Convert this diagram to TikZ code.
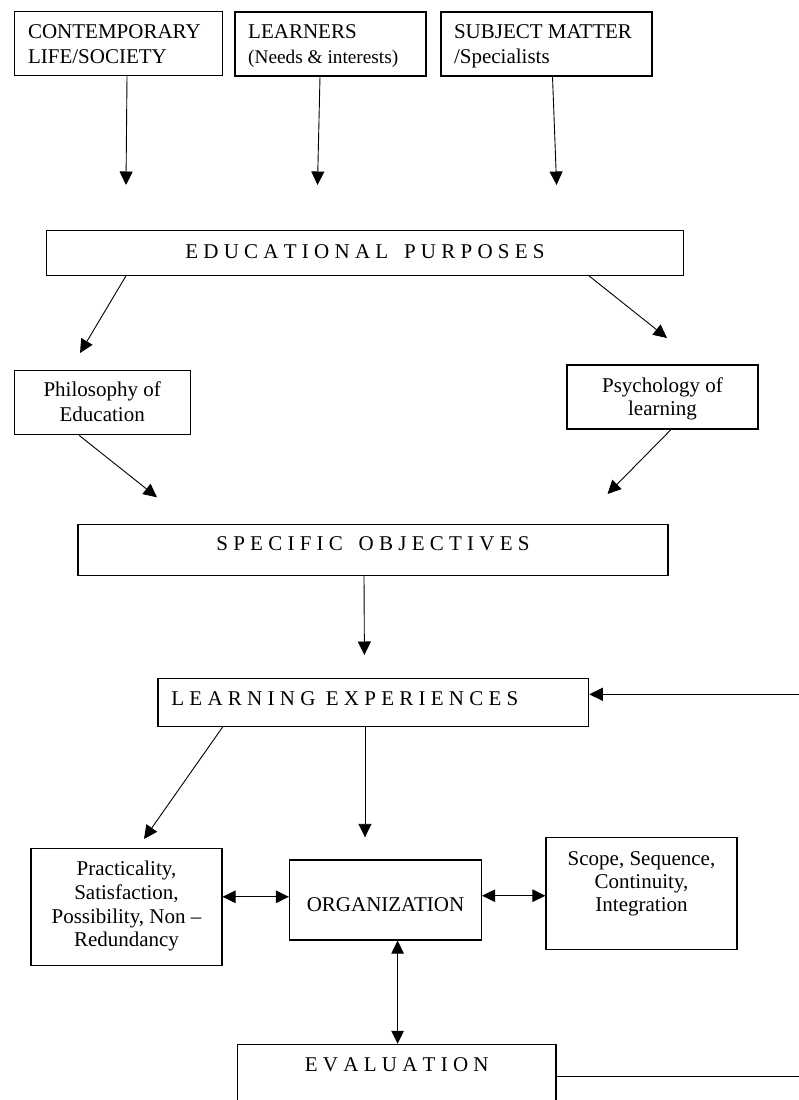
\documentclass[tikz,border=0pt]{standalone}
\usepackage{fontspec}
\setmainfont{Liberation Serif}
\usetikzlibrary{arrows.meta}
\newcommand\tsH[1]{\vrule height #1pt depth 0pt width 0pt}
\newcommand\tsD[1]{\vrule height 0pt depth #1pt width 0pt}
\newcommand\nsp{\spaceskip=0pt\xspaceskip=0pt\relax}
\begin{document}
\begin{tikzpicture}[x=1pt,y=-1pt,
  box/.style={draw=black, line width=1.1pt, rectangle, inner sep=0pt, font=\fontsize{21}{25}\selectfont},
  arr/.style={line width=0.9pt, -{Triangle[length=13.5pt,width=13pt]}},
  darr/.style={line width=0.9pt, {Triangle[length=13pt,width=12.5pt]}-{Triangle[length=13pt,width=12.5pt]}},
]
\useasboundingbox (0,0) rectangle (799,1100);
\clip (0,0) rectangle (799,1100);

% top boxes
\node[box, minimum width=207.7pt, minimum height=64pt, text width=180.3pt, align=left] (ctx) at (118.2,43.7)
  {\nsp\tsH{20}CONTEMPORARY\\LIFE/SOCIETY\tsD{5.8}};
\node[box, minimum width=191pt, minimum height=64pt, text width=164.6pt, align=left] (lrn) at (330.5,44)
  {\nsp\tsH{20}LEARNERS\\\mbox{\fontsize{19.3}{25}\selectfont (Needs \& interests)}\tsD{7}};
\node[box, minimum width=211pt, minimum height=64pt, text width=185pt, align=left] (sub) at (546.5,44)
  {\nsp\tsH{20}SUBJECT MATTER\\/Specialists\tsD{6.4}};

\node[box, minimum width=637pt, minimum height=44.6pt] (edu) at (365,253)
  {\tsH{20}E D U C A T I O N A L~~~P U R P O S E S\tsD{9.4}};

\node[box, minimum width=175.7pt, minimum height=64pt, align=center] (phil) at (102.2,402.7)
  {\nsp\tsH{20}Philosophy of\\Education\tsD{7}};
\node[box, minimum width=191pt, minimum height=64pt, align=center, font=\fontsize{21}{23.5}\selectfont] (psy) at (662.5,397)
  {\nsp\tsH{20}Psychology of\\learning\tsD{6}};

\node[box, minimum width=590pt, minimum height=51pt] (spec) at (373,549.8)
  {\tsH{20}S P E C I F I C~~~O B J E C T I V E S\tsD{18.2}};

\node[box, minimum width=430.7pt, minimum height=47.6pt, text width=404pt, align=left] (lrnexp) at (373.35,702.5)
  {\nsp\tsH{20}L E A R N I N G~~E X P E R I E N C E S\tsD{14.4}};

\node[box, minimum width=191pt, minimum height=117pt, align=center, font=\fontsize{21}{23.6}\selectfont] (prac) at (126.5,906.8)
  {\nsp\tsH{20}Practicality,\\Satisfaction,\\Possibility, Non –\\Redundancy\tsD{10.9}};
\node[box, minimum width=192.1pt, minimum height=80pt] (org) at (385.5,900)
  {\tsH{24}ORGANIZATION\tsD{0.6}};
\node[box, minimum width=191pt, minimum height=111.6pt, align=center, font=\fontsize{21}{23}\selectfont] (scope) at (641.5,893.5)
  {\nsp\tsH{20}Scope, Sequence,\\Continuity,\\Integration\tsD{29.6}};

\node[box, minimum width=318.5pt, minimum height=64pt] (eval) at (396.75,1076.3)
  {\tsH{20}E V A L U A T I O N\tsD{29.2}};

% free arrow ends
\coordinate (t1) at (126,185);
\coordinate (t2) at (317.5,185);
\coordinate (t3) at (556.6,185);
\coordinate (t4) at (80,353);
\coordinate (t5) at (667,338);
\coordinate (t6) at (157,497.3);
\coordinate (t7) at (607.5,494);
\coordinate (t8) at (364.4,655);
\coordinate (t9) at (144,839);
\coordinate (t10) at (365,837.3);
\coordinate (fb) at (830,0);

\draw[arr] ([xshift=8.8pt]ctx.south) -- (t1);
\draw[arr] ([xshift=-10.5pt]lrn.south) -- (t2);
\draw[arr] ([xshift=6pt]sub.south) -- (t3);
\draw[arr] ([xshift=-239pt]edu.south) -- (t4);
\draw[arr] ([xshift=224pt]edu.south) -- (t5);
\draw[arr] ([xshift=-23.2pt]phil.south) -- (t6);
\draw[arr] ([xshift=8.5pt]psy.south) -- (t7);
\draw[arr] ([xshift=-9pt]spec.south) -- (t8);
\draw[arr] ([xshift=-150.6pt]lrnexp.south) -- (t9);
\draw[arr] ([xshift=-8.35pt]lrnexp.south) -- (t10);

\draw[darr] ([yshift=10pt]prac.east) -- ([yshift=10pt]prac.east -| org.west);
\draw[darr] ([yshift=4.3pt]org.east) -- ([yshift=4.3pt]org.east -| scope.west);
\draw[darr] ([xshift=12.1pt]org.south) -- ([xshift=12.1pt]org.south |- eval.north);

\draw[arr] (eval.east) -- (eval.east -| fb) -- ([yshift=8.2pt]lrnexp.east -| fb) -- ([yshift=8.2pt]lrnexp.east);
\end{tikzpicture}
\end{document}
